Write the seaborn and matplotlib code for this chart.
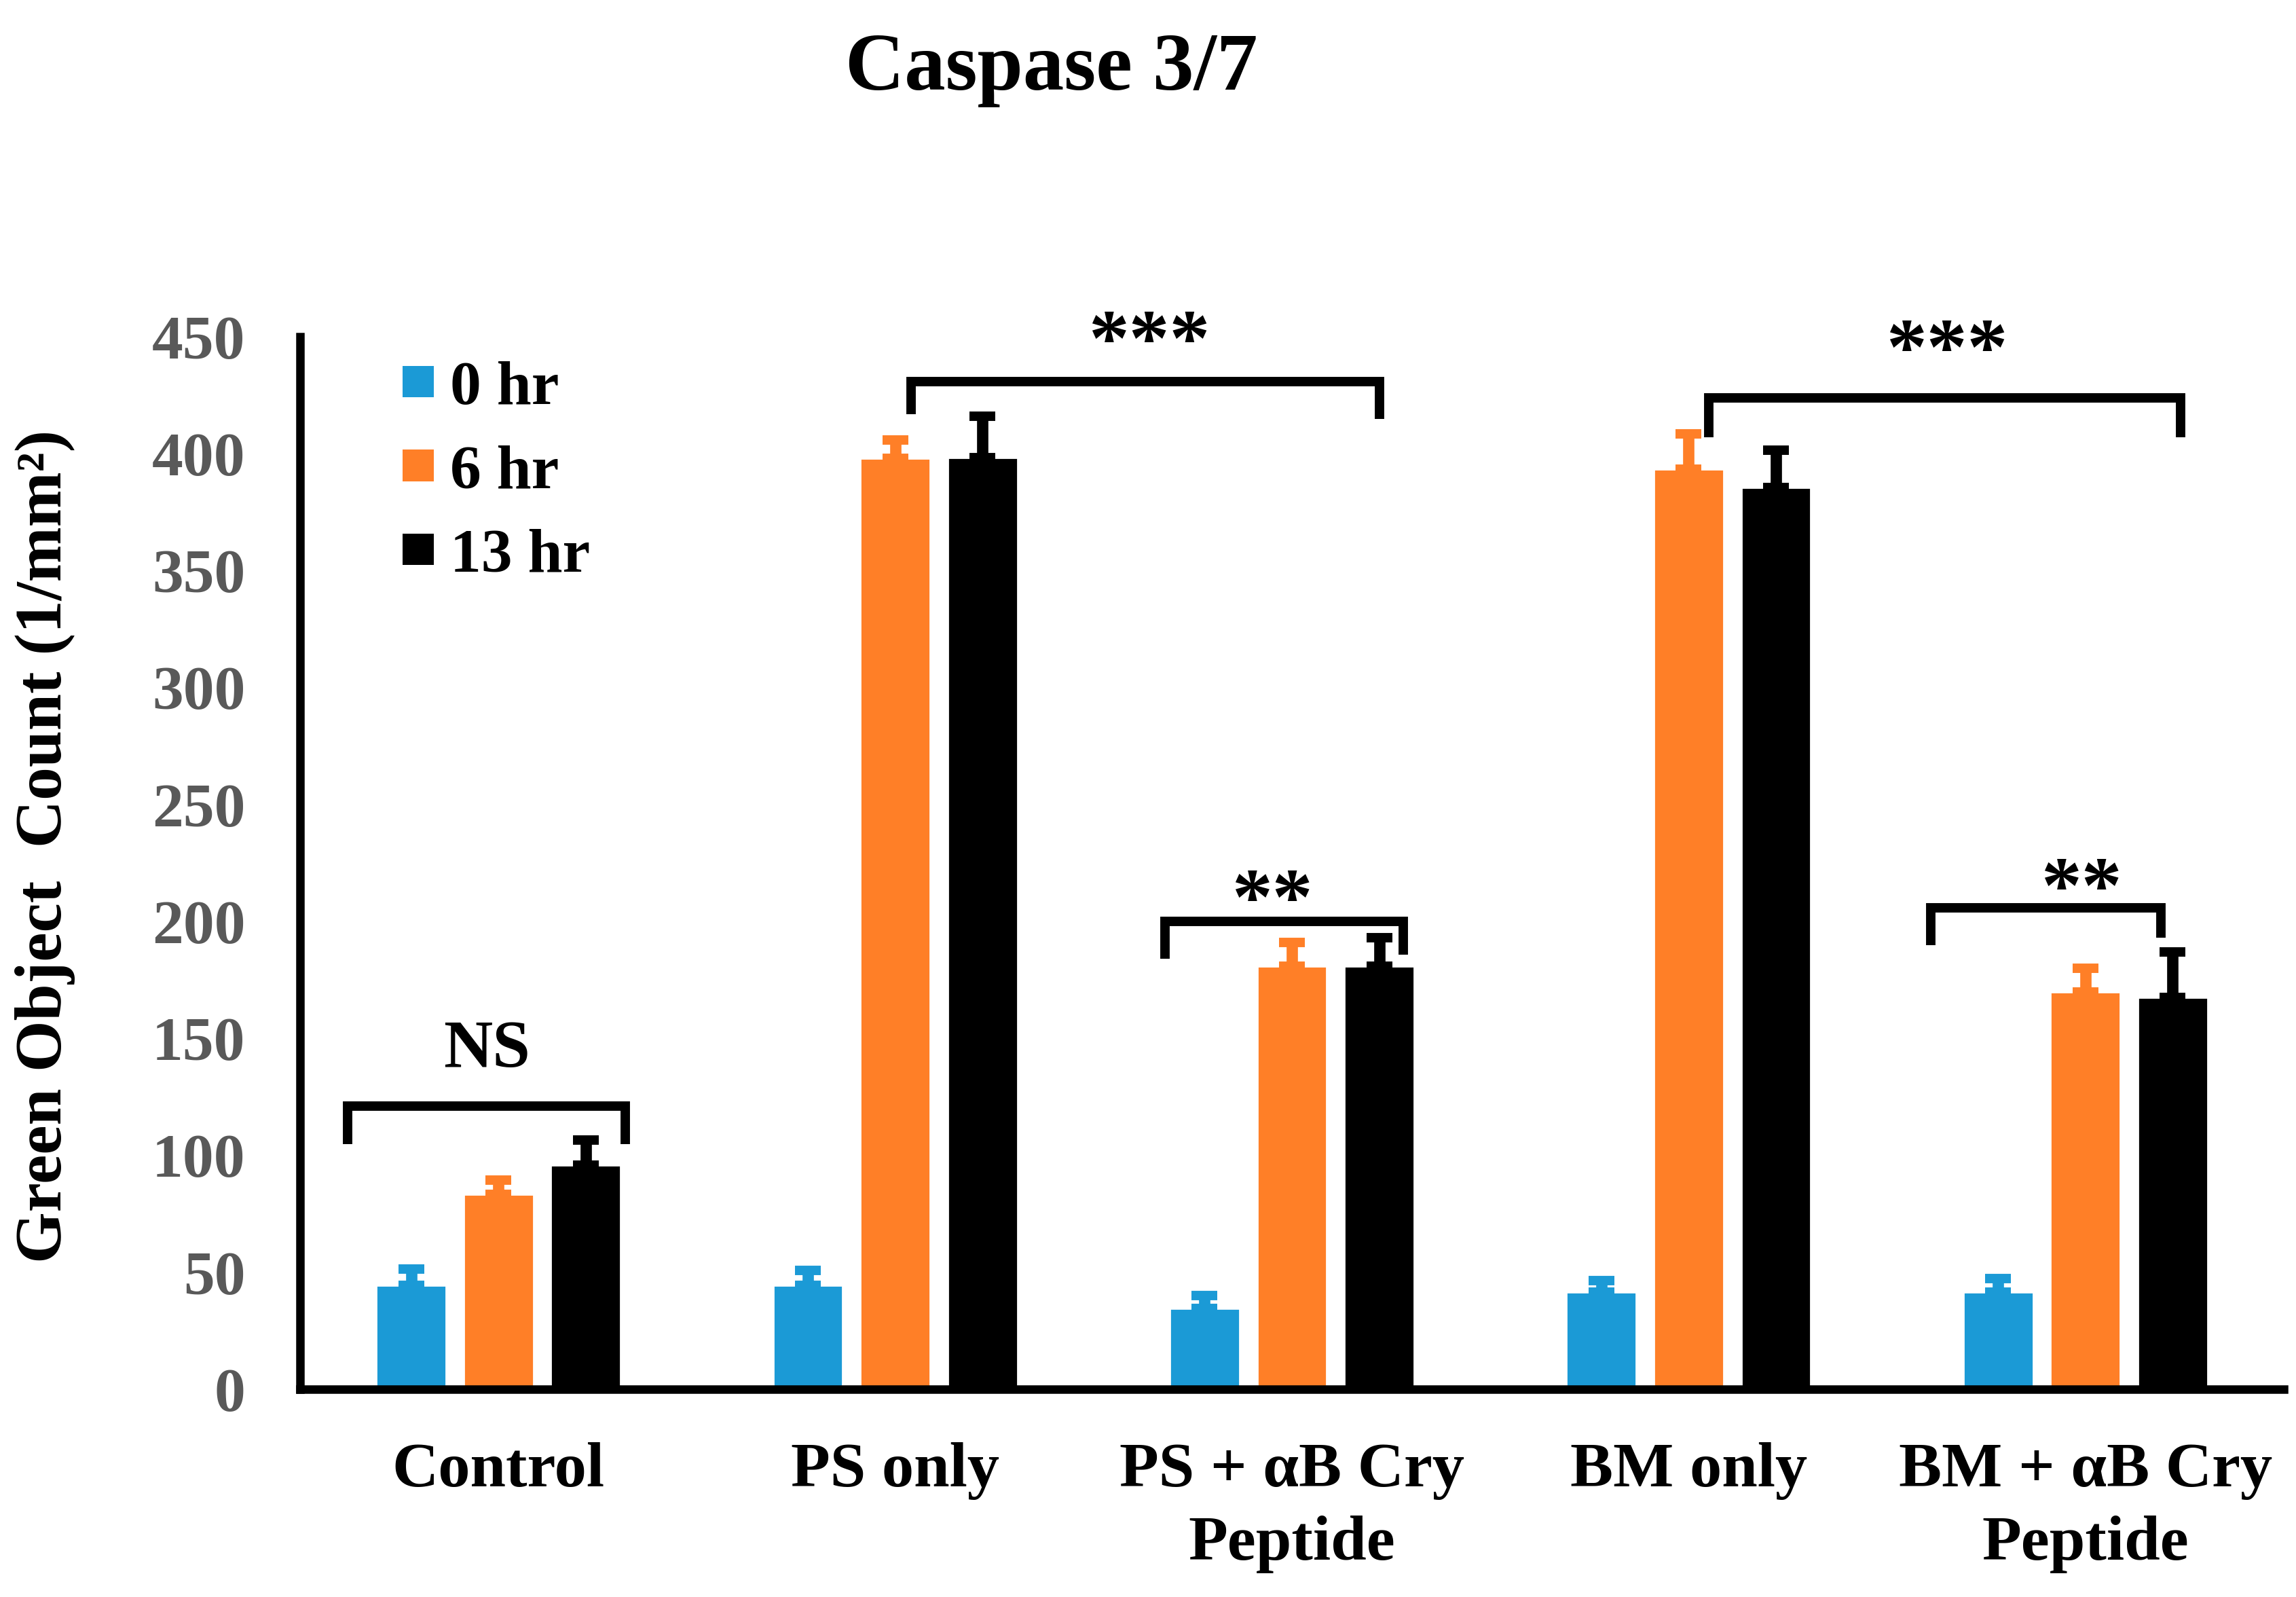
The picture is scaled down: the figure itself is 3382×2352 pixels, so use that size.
import numpy as np
import pandas as pd
import matplotlib
matplotlib.use("Agg")
import matplotlib.pyplot as plt
from matplotlib.patches import Patch
import seaborn as sns

# Données
groups = ["Control", "PS only", "PS + αB Cry\nPeptide", "BM only", "BM + αB Cry\nPeptide"]
times = ["0 hr", "6 hr", "13 hr"]
mean_0hr = [44.5, 44.5, 34.5, 41.5, 41.5]
mean_6hr = [83.5, 398, 181, 393.5, 170]
mean_13hr = [96, 398.5, 181, 385.5, 167.5]
err_0hr = [7, 6.5, 5.5, 5, 6]
err_6hr = [6, 8, 10, 15, 10]
err_13hr = [10.5, 17.5, 12, 16, 19.5]
colors = ["#1b9ad6", "#ff7f27", "#000000"]

# Annotations : (x gauche, x droite, haut, pied gauche, pied droit, texte, x texte, y texte)
brackets = [
    (-0.38, 0.32, 121, 105, 105, "NS", -0.03, 138),
    (1.04, 2.22, 431, 417, 415, "***", 1.64, 438),
    (1.68, 2.28, 200, 184, 186, "**", 1.95, 199),
    (3.05, 4.24, 424, 407, 407, "***", 3.65, 434),
    (3.61, 4.19, 206, 190, 193, "**", 3.99, 204),
]

df = pd.DataFrame({
    "group": groups * 3,
    "time": [t for t in times for _ in groups],
    "value": mean_0hr + mean_6hr + mean_13hr,
})
errs = [err_0hr, err_6hr, err_13hr]

sns.set_theme(style="white")
plt.rcParams["font.family"] = ["Liberation Serif", "DejaVu Serif"]
plt.rcParams["font.weight"] = "bold"
plt.rcParams["text.color"] = "black"

fig = plt.figure(figsize=(16.91, 11.76), dpi=200)
ax = fig.add_axes([0.1307, 0.130, 0.864, 0.659])

sns.barplot(data=df, x="group", y="value", hue="time", palette=colors,
            width=0.66, gap=0.2, errorbar=None, legend=False, ax=ax,
            saturation=1)

# Barres d'erreur (seulement vers le haut)
for cont, err, c in zip(ax.containers, errs, colors):
    xs = [b.get_x() + b.get_width() / 2 for b in cont]
    ys = [b.get_height() for b in cont]
    ax.errorbar(xs, ys, yerr=[np.zeros(len(err)), err], fmt="none",
                ecolor=c, elinewidth=6, capsize=7, capthick=5, zorder=3)

# Crochets de significativité
for x0, x1, top, l0, l1, txt, tx, ty in brackets:
    ax.plot([x0, x0, x1, x1], [l0, top, top, l1], color="black", lw=5,
            solid_capstyle="butt", solid_joinstyle="miter", clip_on=False, zorder=4)
    ax.text(tx, ty, txt, ha="center", va="baseline",
            fontsize=36 if txt == "NS" else 43,
            fontweight="bold", color="black", clip_on=False)

ax.set_xlim(-0.5, 4.5)
ax.set_ylim(0, 450)
ax.set_yticks(range(0, 451, 50))
ax.set_xlabel("")
ax.set_ylabel("")
ax.tick_params(axis="y", length=0, pad=29, labelsize=33, labelcolor="#595959")
ax.tick_params(axis="x", length=0, pad=28, labelsize=34, labelcolor="black")
for lab in ax.get_yticklabels() + ax.get_xticklabels():
    lab.set_fontweight("bold")
for lab in ax.get_xticklabels():
    lab.set_linespacing(1.35)

sns.despine(ax=ax)
for side in ["left", "bottom"]:
    ax.spines[side].set_linewidth(4.5)
    ax.spines[side].set_color("black")

handles = [Patch(facecolor=c, edgecolor="none") for c in colors]
ax.legend(handles, times, loc="upper left", bbox_to_anchor=(0.0517, 0.977),
          frameon=False, prop={"size": 33, "weight": "bold"},
          handlelength=0.5, handleheight=0.4, handletextpad=0.26,
          labelspacing=0.45, borderaxespad=0, borderpad=0)

fig.text(0.458, 0.956, "Caspase 3/7", ha="center", va="center",
         fontsize=43.5, fontweight="bold", color="black")
fig.text(0.0198, 0.47, "Green Object  Count (1/mm²)", rotation=90,
         ha="center", va="center", fontsize=35, fontweight="bold", color="black")

fig.savefig("out.png", dpi=200, facecolor="white")
